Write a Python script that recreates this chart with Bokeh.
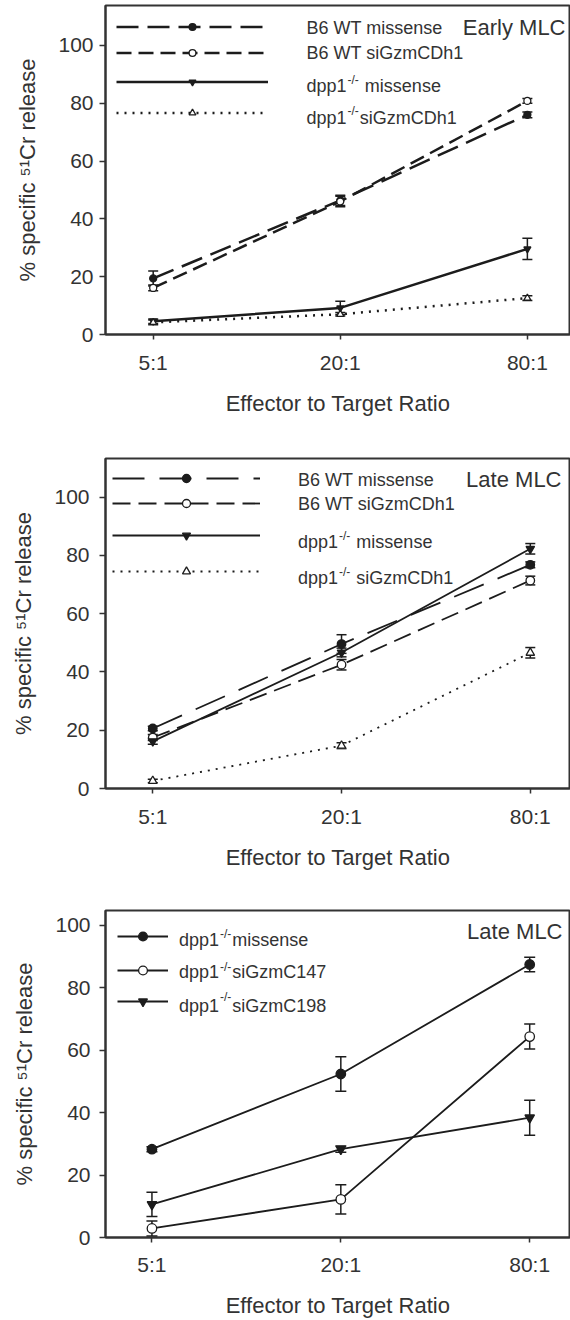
from bokeh.plotting import figure
from bokeh.models import (Range1d, FixedTicker, ColumnDataSource, Whisker, TeeHead,
                          Legend, LegendItem, Label)
from bokeh.layouts import column
from bokeh.embed import file_html
from bokeh.resources import INLINE

# ---------------- data ----------------
ratios = ["5:1", "20:1", "80:1"]
y_ticks = [0, 20, 40, 60, 80, 100]
x_title = "Effector to Target Ratio"
y_title = "% specific \u2075\u00b9Cr release"

# Panel 1 - Early MLC
early_title = "Early MLC"
early_names = [("B6 WT missense", "", ""), ("B6 WT siGzmCDh1", "", ""),
               ("dpp1", "-/-", " missense"), ("dpp1", "-/-", "siGzmCDh1")]
early_b6_missense = [19.4, 46.4, 76.0]
early_b6_missense_err = [2.6, 1.8, 1.0]
early_b6_sigzmcdh1 = [16.1, 46.0, 80.8]
early_b6_sigzmcdh1_err = [1.0, 1.8, 0.8]
early_dpp1_missense = [4.6, 9.2, 29.6]
early_dpp1_missense_err = [0.8, 2.3, 3.7]
early_dpp1_sigzmcdh1 = [4.2, 7.0, 12.6]
early_dpp1_sigzmcdh1_err = [0.8, 0.6, 0.8]

# Panel 2 - Late MLC
late_title = "Late MLC"
late_names = [("B6 WT missense", "", ""), ("B6 WT siGzmCDh1", "", ""),
              ("dpp1", "-/-", " missense"), ("dpp1", "-/-", " siGzmCDh1")]
late_b6_missense = [20.6, 49.6, 76.8]
late_b6_missense_err = [0.8, 3.2, 1.0]
late_b6_sigzmcdh1 = [17.5, 42.5, 71.4]
late_b6_sigzmcdh1_err = [1.0, 1.8, 1.5]
late_dpp1_missense = [16.2, 46.7, 82.3]
late_dpp1_missense_err = [1.0, 1.5, 1.8]
late_dpp1_sigzmcdh1 = [2.6, 14.7, 46.6]
late_dpp1_sigzmcdh1_err = [0.6, 1.0, 1.8]

# Panel 3 - Late MLC, dpp1-/- with siGzmC147 / siGzmC198
c_title = "Late MLC"
c_names = [("dpp1", "-/-", "missense"), ("dpp1", "-/-", "siGzmC147"),
           ("dpp1", "-/-", "siGzmC198")]
c_dpp1_missense = [28.3, 52.4, 87.5]
c_dpp1_missense_err = [0.8, 5.5, 2.3]
c_dpp1_sigzmc147 = [2.9, 12.2, 64.4]
c_dpp1_sigzmc147_err = [2.4, 4.7, 4.0]
c_dpp1_sigzmc198 = [10.6, 28.3, 38.4]
c_dpp1_sigzmc198_err = [3.9, 1.0, 5.6]

# ---------------- style ----------------
FONT = "Liberation Sans"
TXT = "#333333"
INK = "#1c1c1c"
LEG_FS = 18
SUP_FS = 12
WIDTH = 570


def tw(text, fs):
    # approximate Arial/Liberation Sans advance widths
    w = {"d": .556, "p": .556, "1": .556, "-": .333, "/": .278, " ": .278}
    return sum(w.get(c, .556) for c in text) * fs


def add_text(p, x, y, text, fs, align="left"):
    p.add_layout(Label(x=x, y=y, x_units="screen", y_units="screen", text=text,
                       text_font=FONT, text_font_size=f"{fs}px", text_color=TXT,
                       text_baseline="middle", text_align=align))


def make_panel(series, names, corner, lay):
    p = figure(width=WIDTH, height=lay["height"],
               x_range=Range1d(lay["x0"], lay["x1"]), y_range=Range1d(0, lay["ytop"]),
               output_backend="svg", toolbar_location=None,
               min_border_left=lay["left"], min_border_right=0,
               min_border_top=lay["top"], min_border_bottom=lay["bottom"])
    p.grid.visible = False
    p.outline_line_color = "#333333"
    p.outline_line_width = 2
    p.background_fill_color = "white"
    p.border_fill_color = "white"

    xs = list(range(len(ratios)))
    p.xaxis.ticker = FixedTicker(ticks=xs)
    p.xaxis.major_label_overrides = {i: r for i, r in enumerate(ratios)}
    p.yaxis.ticker = FixedTicker(ticks=y_ticks)
    for ax in (p.xaxis, p.yaxis):
        ax.minor_tick_line_color = None
        ax.major_tick_in = 0
        ax.axis_line_width = 2
        ax.axis_line_color = "#333333"
        ax.major_tick_line_color = "#333333"
        ax.major_tick_line_width = 1.5
        ax.major_label_text_font = FONT
        ax.major_label_text_font_size = "21px"
        ax.major_label_text_color = TXT
        ax.axis_label_text_font = FONT
        ax.axis_label_text_font_size = "22px"
        ax.axis_label_text_font_style = "normal"
        ax.axis_label_text_color = TXT
    p.xaxis.major_tick_out = 5
    p.yaxis.major_tick_out = 6
    p.xaxis.axis_label = x_title
    p.yaxis.axis_label = y_title
    p.xaxis.major_label_standoff = lay["xstand"]
    p.xaxis.axis_label_standoff = lay["xtstand"]
    p.yaxis.major_label_standoff = lay["ystand"]
    p.yaxis.axis_label_standoff = 15

    for i, (s, nm) in enumerate(zip(series, names)):
        vals, errs, marker, fill, dash = s
        src = ColumnDataSource(dict(
            x=xs, y=vals,
            upper=[v + e for v, e in zip(vals, errs)],
            lower=[v - e for v, e in zip(vals, errs)]))
        lw = lay["lw"]
        p.add_layout(Whisker(source=src, base="x", upper="upper", lower="lower",
                             line_color=INK, line_width=1.5,
                             upper_head=TeeHead(size=lay["cap"], line_color=INK, line_width=1.5),
                             lower_head=TeeHead(size=lay["cap"], line_color=INK, line_width=1.5)))
        lr = p.line("x", "y", source=src, line_color=INK, line_width=lw,
                    line_dash=lay["dash"][dash])
        sr = p.scatter("x", "y", source=src, marker=marker, size=lay["msize"],
                       fill_color=INK if fill else "white", line_color=INK, line_width=1.3)
        gh = lay["gh"]
        leg = Legend(items=[LegendItem(label=" ", renderers=[lr, sr])],
                     location=(lay["lx"], lay["ly"][i] - gh / 2),
                     glyph_width=lay["gw"], glyph_height=gh, label_height=gh,
                     label_width=0, label_standoff=0, padding=0, margin=0, spacing=0,
                     label_text_font_size="6px",
                     border_line_alpha=0, background_fill_alpha=0)
        p.add_layout(leg)
        main, sup, rest = nm
        tx, ty = lay["tx"], lay["ty"][i]
        add_text(p, tx, ty, main, LEG_FS)
        if sup:
            sx = tx + tw(main, LEG_FS) + 1
            add_text(p, sx, ty + lay["sup_raise"][i], sup, SUP_FS)
            rx = sx + tw(sup, SUP_FS) + 1
            if rest.startswith(" "):
                rx += tw(" ", LEG_FS)
            add_text(p, rx, ty, rest.strip(), LEG_FS)
    add_text(p, lay["cx"], lay["cy"], corner, 22, align="right")
    return p


# layout parameters (screen px; legend/text y measured up from the frame bottom)
lay1 = dict(height=430, top=5, bottom=96, left=101, x0=-0.2549, x1=2.2305, ytop=113.8,
            xstand=11, xtstand=14, ystand=6, lw=2.5, cap=10, msize=7,
            dash={"long": "22 9", "med": "15 7", "solid": "solid", "dot": "2 6"},
            lx=11, gw=152, gh=17, ly=[308, 282, 253, 222],
            tx=201, ty=[307, 282, 249, 217], sup_raise=[0, 0, 6, 7],
            cx=460, cy=307)
lay2 = dict(height=450, top=28, bottom=92, left=105, x0=-0.2504, x1=2.213, ytop=113.3,
            xstand=11, xtstand=14, ystand=10, lw=1.8, cap=10, msize=8.5,
            dash={"long": "32 15", "med": "18 8", "solid": "solid", "dot": "2 6"},
            lx=7, gw=148, gh=20, ly=[310, 285, 253, 217],
            tx=192.5, ty=[309, 285, 247, 211], sup_raise=[0, 0, 6, 6],
            cx=456, cy=309)
lay3 = dict(height=440, top=30, bottom=81, left=104, x0=-0.2459, x1=2.216, ytop=104.8,
            xstand=10, xtstand=14, ystand=9, lw=1.8, cap=11, msize=9.5,
            dash={"solid": "solid"},
            lx=11.5, gw=51, gh=22, ly=[301, 267, 236],
            tx=73.5, ty=[298, 266, 232], sup_raise=[6, 5, 9],
            cx=457, cy=306)

p1 = make_panel([
    (early_b6_missense, early_b6_missense_err, "circle", True, "long"),
    (early_b6_sigzmcdh1, early_b6_sigzmcdh1_err, "circle", False, "med"),
    (early_dpp1_missense, early_dpp1_missense_err, "inverted_triangle", True, "solid"),
    (early_dpp1_sigzmcdh1, early_dpp1_sigzmcdh1_err, "triangle", False, "dot"),
], early_names, early_title, lay1)

p2 = make_panel([
    (late_b6_missense, late_b6_missense_err, "circle", True, "long"),
    (late_b6_sigzmcdh1, late_b6_sigzmcdh1_err, "circle", False, "med"),
    (late_dpp1_missense, late_dpp1_missense_err, "inverted_triangle", True, "solid"),
    (late_dpp1_sigzmcdh1, late_dpp1_sigzmcdh1_err, "triangle", False, "dot"),
], late_names, late_title, lay2)

p3 = make_panel([
    (c_dpp1_missense, c_dpp1_missense_err, "circle", True, "solid"),
    (c_dpp1_sigzmc147, c_dpp1_sigzmc147_err, "circle", False, "solid"),
    (c_dpp1_sigzmc198, c_dpp1_sigzmc198_err, "inverted_triangle", True, "solid"),
], c_names, c_title, lay3)

layout = column(p1, p2, p3, spacing=0)
open("out.html", "w").write(file_html(layout, INLINE))
